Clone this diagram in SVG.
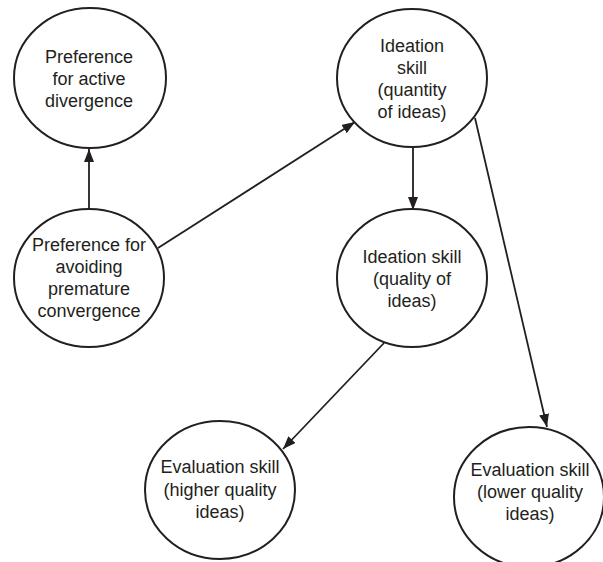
<svg xmlns="http://www.w3.org/2000/svg" width="603" height="562" viewBox="0 0 603 562">
  <style>
    .node ellipse { fill: #ffffff; stroke: #231f20; stroke-width: 2; }
    .node text { font-family: "Liberation Sans", Arial, sans-serif; font-size: 18px; fill: #231f20; text-anchor: middle; }
    .edges line { stroke: #231f20; stroke-width: 1.8; }
  </style>
  <defs>
    <marker id="arrow" markerUnits="userSpaceOnUse" markerWidth="14" markerHeight="10" refX="13" refY="5" orient="auto">
      <path d="M0,0 L13,5 L0,10 Z" fill="#231f20"/>
    </marker>
  </defs>
  <rect width="603" height="562" fill="#ffffff"/>

  <!-- connectors -->
  <g class="edges">
    <line x1="89" y1="209" x2="89" y2="149" marker-end="url(#arrow)"/>
    <line x1="158" y1="248" x2="355" y2="122" marker-end="url(#arrow)"/>
    <line x1="413" y1="147" x2="413" y2="210" marker-end="url(#arrow)"/>
    <line x1="475" y1="118" x2="547" y2="427" marker-end="url(#arrow)"/>
    <line x1="384" y1="343" x2="283" y2="449" marker-end="url(#arrow)"/>
  </g>

  <!-- nodes -->
  <g id="active-divergence" class="node">
    <ellipse cx="90" cy="78" rx="76" ry="70"/>
    <text x="89" y="63">Preference</text>
    <text x="89" y="85">for active</text>
    <text x="89" y="107">divergence</text>
  </g>
  <g id="ideation-quantity" class="node">
    <ellipse cx="412" cy="78" rx="75" ry="69"/>
    <text x="412" y="52">Ideation</text>
    <text x="412" y="74">skill</text>
    <text x="412" y="96">(quantity</text>
    <text x="412" y="118">of ideas)</text>
  </g>
  <g id="avoid-premature" class="node">
    <ellipse cx="89" cy="278" rx="75" ry="69"/>
    <text x="89" y="251">Preference for</text>
    <text x="89" y="273">avoiding</text>
    <text x="89" y="295">premature</text>
    <text x="89" y="317">convergence</text>
  </g>
  <g id="ideation-quality" class="node">
    <ellipse cx="412" cy="278" rx="75" ry="69"/>
    <text x="412" y="263">Ideation skill</text>
    <text x="412" y="285">(quality of</text>
    <text x="412" y="307">ideas)</text>
  </g>
  <g id="evaluation-higher" class="node">
    <ellipse cx="220" cy="490" rx="75" ry="69"/>
    <text x="220" y="473">Evaluation skill</text>
    <text x="220" y="496">(higher quality</text>
    <text x="220" y="518">ideas)</text>
  </g>
  <g id="evaluation-lower" class="node">
    <ellipse cx="529" cy="497" rx="75" ry="70"/>
    <text x="530" y="476">Evaluation skill</text>
    <text x="530" y="498">(lower quality</text>
    <text x="530" y="520">ideas)</text>
  </g>
</svg>
